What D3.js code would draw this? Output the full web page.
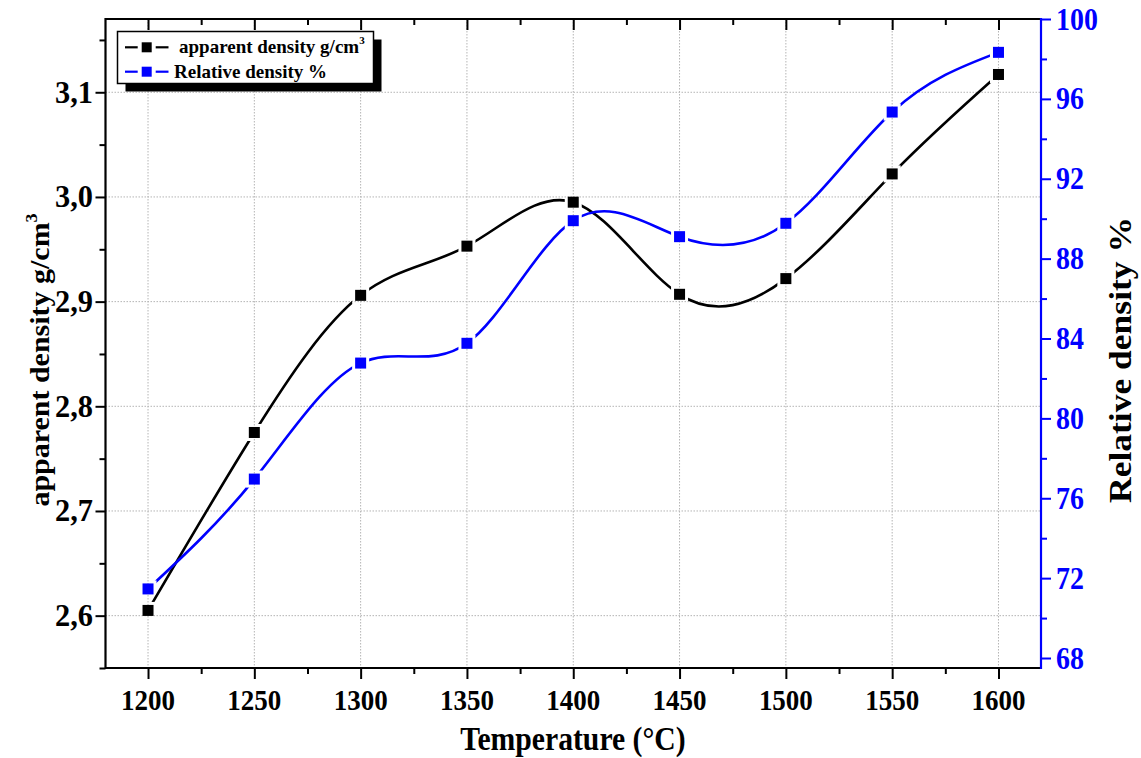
<!DOCTYPE html>
<html>
<head>
<meta charset="utf-8">
<script src="https://cdn.jsdelivr.net/npm/d3@7"></script>
<style>
  html, body { margin: 0; padding: 0; background: #fff; }
  svg { display: block; }
  text { font-family: "Liberation Serif", "Times New Roman", serif; font-weight: bold; }
</style>
</head>
<body>
<svg id="chart" width="1141" height="758"></svg>
<script>
// Sintering temperature (°C)
const temperatures = [1200, 1250, 1300, 1350, 1400, 1450, 1500, 1550, 1600];
// Apparent density (g/cm3), left axis
const apparentDensity = [2.605, 2.775, 2.906, 2.953, 2.995, 2.907, 2.922, 3.022, 3.117];
// Relative density (%), right axis
const relativeDensity = [71.46, 76.96, 82.77, 83.76, 89.9, 89.1, 89.77, 95.34, 98.33];

const xTickValues = [1200, 1250, 1300, 1350, 1400, 1450, 1500, 1550, 1600];
const leftTickValues = [2.6, 2.7, 2.8, 2.9, 3.0, 3.1];
const rightTickValues = [68, 72, 76, 80, 84, 88, 92, 96, 100];

const svg = d3.select("#chart");
const plot = { left: 105.5, right: 1041, top: 19, bottom: 668 };
const BLUE = "#0000ff";
const FONT_SQUEEZE = 0.9;

const x = d3.scaleLinear().domain([1180, 1620]).range([plot.left, plot.right]);
const yL = d3.scaleLinear().domain([2.55, 3.17]).range([plot.bottom, plot.top]);
const yR = d3.scaleLinear().domain([67.5, 100]).range([plot.bottom, plot.top]);

// Helper: horizontally condensed text placed at (tx, ty)
function label(parent, tx, ty, str, opts = {}) {
  const g = parent.append("g")
    .attr("transform", `translate(${tx},${ty}) scale(${opts.sx ?? FONT_SQUEEZE},1)` + (opts.rotate ? ` rotate(${opts.rotate})` : ""));
  const t = g.append("text")
    .attr("text-anchor", opts.anchor || "middle")
    .attr("font-size", opts.size || 30)
    .attr("fill", opts.fill || "#000")
    .text(str);
  return t;
}

// ---- grid ----
const grid = svg.append("g").attr("stroke", "#b4b4b4").attr("stroke-width", 1).attr("stroke-dasharray", "1.5,1.5");
grid.selectAll("line.v").data(xTickValues).join("line")
  .attr("x1", d => x(d)).attr("x2", d => x(d)).attr("y1", plot.top).attr("y2", plot.bottom);
grid.selectAll("line.h").data(leftTickValues).join("line")
  .attr("x1", plot.left).attr("x2", plot.right).attr("y1", d => yL(d)).attr("y2", d => yL(d));

// ---- axes ----
const xMinor = d3.range(1175, 1621, 50).filter(v => v >= 1180);
const leftMinor = [2.55, 2.65, 2.75, 2.85, 2.95, 3.05, 3.15];
const rightMinor = [70, 74, 78, 82, 86, 90, 94, 98];

function styleAxis(g, color) {
  g.select(".domain").remove();
  g.selectAll("line").attr("stroke", color).attr("stroke-width", 2);
  g.selectAll("text").remove();
}

svg.append("g").attr("transform", `translate(0,${plot.bottom})`)
  .call(d3.axisBottom(x).tickValues(xTickValues).tickSize(11)).call(styleAxis, "#000");
svg.append("g").attr("transform", `translate(0,${plot.bottom})`)
  .call(d3.axisBottom(x).tickValues(xMinor).tickSize(6)).call(styleAxis, "#000");
svg.append("g").attr("transform", `translate(0,${plot.top})`)
  .call(d3.axisBottom(x).tickValues(xTickValues).tickSize(11)).call(styleAxis, "#000");
svg.append("g").attr("transform", `translate(0,${plot.top})`)
  .call(d3.axisBottom(x).tickValues(xMinor).tickSize(6)).call(styleAxis, "#000");

svg.append("g").attr("transform", `translate(${plot.left},0)`)
  .call(d3.axisLeft(yL).tickValues(leftTickValues).tickSize(10)).call(styleAxis, "#000");
svg.append("g").attr("transform", `translate(${plot.left},0)`)
  .call(d3.axisLeft(yL).tickValues(leftMinor).tickSize(6)).call(styleAxis, "#000");

svg.append("g").attr("transform", `translate(${plot.right},0)`)
  .call(d3.axisRight(yR).tickValues(rightTickValues).tickSize(10)).call(styleAxis, BLUE);
svg.append("g").attr("transform", `translate(${plot.right},0)`)
  .call(d3.axisRight(yR).tickValues(rightMinor).tickSize(6)).call(styleAxis, BLUE);

// frame
const frame = svg.append("g").attr("stroke-width", 2.2).attr("fill", "none");
frame.append("path").attr("stroke", "#000")
  .attr("d", `M${plot.right},${plot.top}H${plot.left}V${plot.bottom}H${plot.right}`);
frame.append("line").attr("stroke", BLUE)
  .attr("x1", plot.right).attr("x2", plot.right).attr("y1", plot.top - 1.1).attr("y2", plot.bottom + 1.1);

// tick labels
const fmtL = v => d3.format(".1f")(v).replace(".", ",");
xTickValues.forEach(v => label(svg, x(v), 710, v, { size: 30 }));
leftTickValues.forEach(v => label(svg, 93, yL(v) + 10.5, fmtL(v), { size: 32, anchor: "end", sx: 0.95 }));
rightTickValues.forEach(v => label(svg, 1056, yR(v) + 10.5, v, { size: 31, anchor: "start", fill: BLUE }));

// axis titles
label(svg, 573, 750, "Temperature (°C)", { size: 33 });
{
  const t = label(svg, 49, 360, "apparent density g/cm", { size: 30, rotate: -90 });
  t.append("tspan").attr("font-size", 18).attr("dy", -13).text("3");
}
label(svg, 1131, 360, "Relative density %", { size: 35.5, rotate: -90 });

// ---- data series ----
const MARK = 11, GAP = 3;
const series = [
  { name: "apparent density g/cm", sup: "3", values: apparentDensity, y: yL, color: "#000" },
  { name: "Relative density %", values: relativeDensity, y: yR, color: BLUE }
];

const defs = svg.append("defs");
const lineGen = d3.line().curve(d3.curveNatural);

series.forEach((s, i) => {
  const pts = temperatures.map((t, j) => [x(t), s.y(s.values[j])]);
  // mask leaves a small gap in the curve around each marker
  const m = defs.append("mask").attr("id", "gap" + i).attr("maskUnits", "userSpaceOnUse")
    .attr("x", 0).attr("y", 0).attr("width", 1141).attr("height", 758);
  m.append("rect").attr("width", 1141).attr("height", 758).attr("fill", "#fff");
  m.selectAll("rect.g").data(pts).join("rect")
    .attr("x", d => d[0] - MARK / 2 - GAP).attr("y", d => d[1] - MARK / 2 - GAP)
    .attr("width", MARK + 2 * GAP).attr("height", MARK + 2 * GAP).attr("fill", "#000");
  svg.append("path").attr("d", lineGen(pts)).attr("fill", "none")
    .attr("stroke", s.color).attr("stroke-width", 2.6).attr("mask", `url(#gap${i})`);
  s.pts = pts;
});
series.forEach(s => {
  svg.append("g").selectAll("rect").data(s.pts).join("rect")
    .attr("x", d => d[0] - MARK / 2).attr("y", d => d[1] - MARK / 2)
    .attr("width", MARK).attr("height", MARK).attr("fill", s.color);
});

// ---- legend ----
const lg = svg.append("g");
const box = { x: 117.5, y: 31.5, w: 256, h: 52 };
lg.append("rect").attr("x", box.x + 8).attr("y", box.y + 8).attr("width", box.w).attr("height", box.h).attr("fill", "#000");
lg.append("rect").attr("x", box.x).attr("y", box.y).attr("width", box.w).attr("height", box.h)
  .attr("fill", "#fff").attr("stroke", "#000").attr("stroke-width", 1.5);
series.forEach((s, i) => {
  const cy = 47.3 + i * 24.4;
  const cx = 146.7;
  lg.append("line").attr("x1", 125).attr("x2", cx - 9).attr("y1", cy).attr("y2", cy).attr("stroke", s.color).attr("stroke-width", 2.2);
  lg.append("line").attr("x1", cx + 9).attr("x2", 168.5).attr("y1", cy).attr("y2", cy).attr("stroke", s.color).attr("stroke-width", 2.2);
  lg.append("rect").attr("x", cx - 5).attr("y", cy - 5).attr("width", 10).attr("height", 10).attr("fill", s.color);
  const t = lg.append("text").attr("x", i === 0 ? 179 : 174).attr("y", cy + 6)
    .attr("font-size", 19).attr("fill", "#000").text(s.name);
  if (s.sup) t.append("tspan").attr("font-size", 11).attr("dy", -9).text(s.sup);
});
</script>
</body>
</html>
